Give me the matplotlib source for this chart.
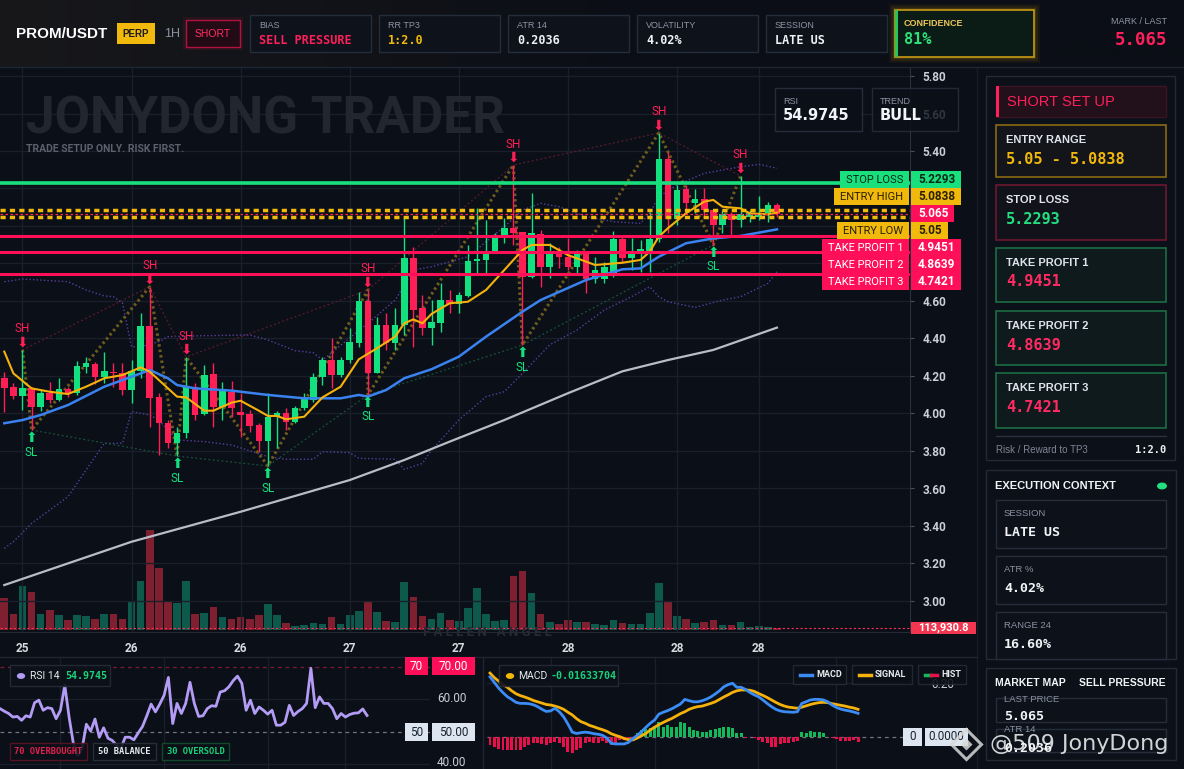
import numpy as np
import matplotlib
matplotlib.use("Agg")
import matplotlib.pyplot as plt
from matplotlib.patches import Rectangle, Circle
from matplotlib.lines import Line2D

# ---------------- DATA ----------------
opens = [4.188, 4.140, 4.095, 4.134, 4.036, 4.108, 4.072, 4.129, 4.108, 4.250,
         4.264, 4.196, 4.221, 4.214, 4.125, 4.228, 4.468, 4.086, 3.948, 3.841,
         3.894, 4.143, 3.997, 4.209, 4.036, 4.116, 4.006, 3.997, 3.939, 3.855,
         3.983, 4.001, 3.956, 4.028, 4.072, 4.193, 4.285, 4.205, 4.285, 4.378,
         4.602, 4.218, 4.472, 4.374, 4.472, 4.828, 4.561, 4.454, 4.484, 4.605,
         4.584, 4.627, 4.811, 4.819, 4.858, 4.934, 4.988, 4.966, 4.726, 4.957,
         4.783, 4.863, 4.836, 4.783, 4.849, 4.716, 4.716, 4.739, 4.929, 4.828,
         4.854, 4.863, 4.929, 5.356, 5.036, 5.196, 5.125, 5.142, 5.085, 5.005,
         5.064, 5.032, 5.050, 5.050, 5.068, 5.112]
highs = [4.223, 4.161, 4.339, 4.143, 4.125, 4.170, 4.188, 4.143, 4.280, 4.300,
         4.276, 4.326, 4.271, 4.268, 4.285, 4.534, 4.676, 4.108, 3.965, 3.930,
         4.301, 4.161, 4.259, 4.268, 4.170, 4.175, 4.108, 4.019, 3.948, 4.108,
         4.015, 4.028, 4.040, 4.108, 4.214, 4.303, 4.401, 4.303, 4.454, 4.650,
         4.659, 4.516, 4.534, 4.561, 5.050, 4.890, 4.632, 4.605, 4.694, 4.659,
         4.650, 4.899, 5.094, 5.032, 4.961, 5.041, 5.325, 4.970, 5.178, 4.979,
         4.908, 4.890, 4.934, 4.872, 4.863, 4.836, 4.810, 4.975, 4.943, 4.934,
         4.925, 5.076, 5.496, 5.396, 5.219, 5.219, 5.196, 5.201, 5.089, 5.085,
         5.076, 5.267, 5.085, 5.160, 5.130, 5.125]
lows = [4.006, 4.076, 4.019, 3.912, 4.015, 4.054, 4.068, 4.086, 4.099, 4.214,
        4.157, 4.161, 4.143, 4.100, 4.054, 4.188, 3.930, 3.780, 3.814, 3.773,
        3.868, 3.965, 3.992, 3.930, 3.965, 3.983, 3.876, 3.903, 3.796, 3.720,
        3.816, 3.912, 3.948, 4.019, 4.063, 4.152, 4.134, 4.196, 4.268, 4.356,
        4.099, 4.214, 4.339, 4.339, 4.419, 4.356, 4.419, 4.365, 4.436, 4.534,
        4.534, 4.623, 4.739, 4.739, 4.854, 4.908, 4.899, 4.365, 4.721, 4.677,
        4.721, 4.774, 4.765, 4.748, 4.644, 4.694, 4.694, 4.730, 4.801, 4.765,
        4.756, 4.756, 4.916, 4.961, 5.005, 5.068, 5.068, 5.050, 4.899, 4.961,
        4.952, 4.996, 5.023, 5.032, 5.023, 5.050]
closes = [4.138, 4.095, 4.134, 4.036, 4.108, 4.072, 4.129, 4.108, 4.253, 4.271,
          4.196, 4.227, 4.214, 4.125, 4.228, 4.468, 4.084, 3.948, 3.841, 3.894,
          4.143, 3.992, 4.205, 4.036, 4.125, 4.028, 3.992, 3.933, 3.855, 3.983,
          4.001, 3.956, 4.028, 4.086, 4.196, 4.285, 4.205, 4.285, 4.383, 4.602,
          4.218, 4.472, 4.374, 4.472, 4.828, 4.552, 4.454, 4.486, 4.605, 4.584,
          4.632, 4.815, 4.824, 4.858, 4.938, 4.988, 4.961, 4.726, 4.961, 4.783,
          4.863, 4.836, 4.783, 4.849, 4.716, 4.765, 4.783, 4.929, 4.828, 4.854,
          4.876, 4.929, 5.356, 5.036, 5.192, 5.121, 5.142, 5.085, 5.005, 5.064,
          5.032, 5.064, 5.068, 5.071, 5.112, 5.065]
volumes_k = [1824, 912, 2508, 2166, 912, 1140, 855, 570, 855, 798,
             627, 912, 912, 627, 1596, 2793, 5700, 3534, 1596, 1539,
             2793, 912, 969, 1311, 741, 627, 741, 627, 855, 1482,
             855, 399, 228, 285, 399, 342, 741, 342, 855, 1083,
             1653, 1026, 513, 456, 2736, 1881, 798, 627, 969, 570,
             513, 1254, 2394, 912, 513, 570, 3078, 3363, 2109, 912,
             456, 342, 570, 456, 456, 342, 285, 570, 399, 342,
             342, 969, 2679, 1653, 798, 627, 399, 456, 570, 285,
             285, 456, 171, 228, 171, 113.9308]

ema_fast_idx = [0, 1, 3, 5, 7, 9, 11, 13, 15, 16, 19, 20, 22, 23, 25, 26, 28, 29, 30, 31,
                33, 35, 37, 39, 41, 43, 44, 45, 46, 47, 49, 51, 53, 55, 57, 58, 60, 62, 64, 65,
                68, 70, 71, 72, 73, 75, 77, 78, 79, 81, 82, 84, 85]
ema_fast_val = [4.330, 4.214, 4.134, 4.116, 4.104, 4.143, 4.188, 4.205, 4.246, 4.223,
                4.090, 4.086, 4.015, 4.015, 4.058, 4.068, 4.015, 3.987, 3.987, 3.969,
                3.983, 4.086, 4.143, 4.289, 4.348, 4.410, 4.481, 4.502, 4.481, 4.531,
                4.588, 4.596, 4.659, 4.765, 4.872, 4.899, 4.899, 4.845, 4.810, 4.792,
                4.804, 4.819, 4.863, 4.943, 4.988, 5.068, 5.130, 5.139, 5.103, 5.094,
                5.068, 5.062, 5.071]
ema_mid_idx = [0, 2, 4, 7, 11, 14, 16, 18, 19, 21, 25, 29, 33, 37, 39, 40, 42, 44, 47, 50,
               53, 57, 59, 64, 68, 70, 72, 75, 78, 81, 85]
ema_mid_val = [3.948, 3.965, 3.992, 4.045, 4.143, 4.196, 4.232, 4.188, 4.152, 4.134,
               4.122, 4.099, 4.081, 4.081, 4.099, 4.090, 4.125, 4.188, 4.236, 4.303,
               4.410, 4.543, 4.605, 4.712, 4.769, 4.774, 4.836, 4.908, 4.934, 4.947, 4.982]
ema_slow_idx = [0, 14, 26, 38, 44, 49, 55, 62, 68, 73, 78, 85]
ema_slow_val = [3.085, 3.316, 3.476, 3.645, 3.752, 3.850, 3.965, 4.108, 4.225, 4.285, 4.339, 4.458]

band_up_idx = [0, 2, 7, 9, 11, 12, 13, 14, 15, 17, 18, 22, 27, 29, 32, 34, 35, 40, 43, 45,
               47, 51, 55, 57, 59, 61, 64, 67, 70, 71, 72, 74, 77, 81, 83, 85]
band_up_val = [4.703, 4.717, 4.703, 4.659, 4.627, 4.623, 4.589, 4.356, 4.356, 4.383,
               4.410, 4.415, 4.419, 4.392, 4.335, 4.324, 4.285, 4.481, 4.605, 4.765,
               4.783, 4.836, 4.996, 5.085, 5.121, 5.103, 5.050, 5.023, 5.014, 5.068,
               5.156, 5.219, 5.281, 5.316, 5.329, 5.308]
band_lo_idx = [0, 1, 3, 7, 11, 13, 14, 16, 17, 19, 22, 25, 29, 31, 34, 35, 38, 39, 43, 44,
               46, 47, 50, 53, 55, 57, 60, 63, 66, 69, 71, 72, 73, 76, 79, 81, 84, 85]
band_lo_val = [3.281, 3.316, 3.414, 3.556, 3.841, 3.841, 4.010, 3.992, 3.965, 3.859,
               3.850, 3.832, 3.770, 3.756, 3.756, 3.796, 3.791, 3.761, 3.756, 3.702,
               3.734, 3.805, 3.965, 4.090, 4.116, 4.214, 4.366, 4.445, 4.552, 4.623,
               4.676, 4.623, 4.596, 4.566, 4.605, 4.623, 4.694, 4.756]

swing_high_idx = [2, 16, 20, 40, 56, 72, 81]
swing_low_idx = [3, 19, 29, 40, 57, 78]
zigzag_idx = [2, 3, 16, 19, 20, 29, 40, 40, 56, 57, 72, 78, 81]
zigzag_kind = ['H', 'L', 'H', 'L', 'H', 'L', 'H', 'L', 'H', 'L', 'H', 'L', 'H']

x_tick_idx = [2, 14, 26, 38, 50, 62, 74, 83]
x_tick_labels = ['25', '26', '26', '27', '27', '28', '28', '28']
price_ticks = [3.0, 3.2, 3.4, 3.6, 3.8, 4.0, 4.2, 4.4, 4.6, 4.8, 5.0, 5.2, 5.4, 5.6, 5.8]
sub_grid_idx = [14, 38, 62, 80]

level_names = ['STOP LOSS', 'ENTRY HIGH', '', 'ENTRY LOW', 'TAKE PROFIT 1', 'TAKE PROFIT 2', 'TAKE PROFIT 3']
level_prices = [5.2293, 5.0838, 5.065, 5.05, 4.9451, 4.8639, 4.7421]
level_texts = ['5.2293', '5.0838', '5.065', '5.05', '4.9451', '4.8639', '4.7421']

rsi_vals = [57.1, 56.3, 55.6, 54.5, 54.7, 53.5, 54.9, 54.5, 58.9, 59.7,
            56.6, 57.4, 57.1, 54.0, 56.6, 64.3, 54.5, 46.3, 42.7, 44.7,
            52.3, 50.2, 53.9, 48.3, 51.2, 48.0, 47.3, 45.8, 44.9, 48.3,
            48.3, 47.5, 49.6, 51.6, 54.9, 58.5, 56.1, 58.5, 61.2, 66.7,
            52.5, 58.7, 55.6, 58.7, 65.2, 58.7, 54.7, 54.9, 57.1, 58.0,
            57.8, 62.2, 62.6, 63.8, 65.7, 67.1, 64.9, 56.6, 59.7, 55.6,
            57.6, 56.6, 55.4, 56.6, 52.0, 52.0, 52.9, 58.1, 55.0, 56.2,
            57.1, 58.7, 69.5, 57.4, 60.7, 58.7, 58.7, 57.1, 54.0, 55.6,
            54.5, 55.3, 55.7, 55.8, 57.0, 55.0]
macd_vals = [0.223, 0.202, 0.181, 0.164, 0.149, 0.139, 0.128, 0.124, 0.124, 0.123,
             0.119, 0.112, 0.102, 0.094, 0.096, 0.106, 0.093, 0.074, 0.047, 0.017,
             0.012, 0.015, 0.017, 0.015, 0.011, 0.009, 0.005, -0.005, -0.025, -0.027,
             -0.027, -0.027, -0.021, -0.007, 0.005, 0.019, 0.035, 0.050, 0.062, 0.084,
             0.091, 0.097, 0.104, 0.113, 0.122, 0.139, 0.134, 0.130, 0.130, 0.134,
             0.140, 0.148, 0.159, 0.171, 0.186, 0.194, 0.199, 0.184, 0.184, 0.176,
             0.165, 0.156, 0.149, 0.137, 0.124, 0.112, 0.102, 0.096, 0.093, 0.092,
             0.091, 0.093, 0.124, 0.130, 0.137, 0.139, 0.139, 0.137, 0.130, 0.118,
             0.109, 0.103, 0.099, 0.096, 0.092, 0.087]
signal_vals = [0.237, 0.220, 0.207, 0.194, 0.184, 0.171, 0.160, 0.153, 0.148, 0.142,
               0.135, 0.130, 0.125, 0.120, 0.118, 0.114, 0.109, 0.102, 0.091, 0.081,
               0.067, 0.056, 0.050, 0.042, 0.037, 0.031, 0.026, 0.020, 0.011, 0.005,
               0.000, -0.007, -0.011, -0.012, -0.005, 0.004, 0.012, 0.025, 0.035, 0.045,
               0.053, 0.061, 0.068, 0.077, 0.086, 0.093, 0.102, 0.108, 0.112, 0.114,
               0.119, 0.124, 0.130, 0.139, 0.148, 0.156, 0.165, 0.171, 0.174, 0.174,
               0.173, 0.169, 0.161, 0.154, 0.146, 0.137, 0.128, 0.120, 0.114, 0.110,
               0.108, 0.106, 0.110, 0.115, 0.120, 0.124, 0.127, 0.128, 0.127, 0.123,
               0.120, 0.117, 0.114, 0.110, 0.107, 0.102]
hist_vals = [-0.031, -0.037, -0.047, -0.050, -0.050, -0.050, -0.050, -0.050, -0.037, -0.031,
             -0.025, -0.022, -0.027, -0.031, -0.025, -0.019, -0.025, -0.037, -0.056, -0.062,
             -0.050, -0.043, -0.025, -0.019, -0.025, -0.022, -0.015, -0.025, -0.031, -0.022,
             -0.012, -0.012, -0.010, -0.006,
             0.012, 0.025, 0.027, 0.031, 0.040, 0.056, 0.035, 0.043, 0.037, 0.035,
             0.056, 0.050, 0.037, 0.025, 0.022, 0.019, 0.019, 0.025, 0.027, 0.031,
             0.035, 0.035, 0.031, 0.015, 0.012,
             -0.006, -0.002, -0.006, -0.012, -0.019, -0.025, -0.037, -0.037, -0.027, -0.022,
             -0.022, -0.019, -0.015,
             0.019, 0.015, 0.021, 0.019, 0.019, 0.012,
             -0.002, -0.006, -0.010, -0.015, -0.015, -0.015, -0.012, -0.019]

# ---------------- STYLE ----------------
W, H = 1184, 769
BG = '#0b0f17'
GRID = '#1a202b'
GREEN = '#13e07e'
RED = '#ff1e56'
YEL = '#f0b90b'
BLUE = '#3a82f0'
SANS = ['Roboto', 'DejaVu Sans']
LIB = ['Liberation Sans', 'DejaVu Sans']
MONO = ['DejaVu Sans Mono']
plt.rcParams['font.family'] = SANS

fig = plt.figure(figsize=(W / 100, H / 100), dpi=100)
fig.patch.set_facecolor(BG)


def fx(x):
    return x / W


def fy(y):
    return 1 - y / H


def box(x0, y0, x1, y1, fc='none', ec='none', lw=1.0, z=2, alpha=1.0):
    r = Rectangle((fx(x0), fy(y1)), (x1 - x0) / W, (y1 - y0) / H, transform=fig.transFigure,
                  facecolor=fc, edgecolor=ec, lw=lw, zorder=z, alpha=alpha)
    fig.add_artist(r)
    return r


def t(x, y, s, size=8, color='white', ha='left', va='center', weight='normal', family=None, z=6, **kw):
    return fig.text(fx(x), fy(y), s, fontsize=size, color=color, ha=ha, va=va, fontweight=weight,
                    family=family if family else SANS, zorder=z, **kw)


def hline(x0, x1, y, color, lw=1.0, z=2, ls='-'):
    fig.add_artist(Line2D([fx(x0), fx(x1)], [fy(y), fy(y)], transform=fig.transFigure,
                          color=color, lw=lw, zorder=z, ls=ls))


def vline(x, y0, y1, color, lw=1.0, z=2):
    fig.add_artist(Line2D([fx(x), fx(x)], [fy(y0), fy(y1)], transform=fig.transFigure,
                          color=color, lw=lw, zorder=z))


# ---------------- HEADER ----------------
hax = fig.add_axes([0, fy(67), 1, 67 / H])
g = np.clip(np.linspace(0, 1, 400) / 0.55, 0, 1)
c0 = np.array([24, 24, 27]) / 255.0
c1 = np.array([11, 14, 22]) / 255.0
img = c0[None, :] + (c1 - c0)[None, :] * g[:, None]
hax.imshow(img[None, :, :], aspect='auto', extent=[0, 1, 0, 1])
hax.axis('off')
hline(0, W, 67, '#1f2633', lw=1, z=3)

t(16, 34, 'PROM/USDT', size=11, weight='bold', family=LIB)
box(117, 23, 155, 44, fc=YEL, z=3)
t(136, 34, 'PERP', size=7, color='#1b1b1b', ha='center', weight='bold', family=LIB)
t(164, 34, '1H', size=9, color='#8a93a3', family=LIB)
box(183, 17, 243, 50, fc='#ff1e56', z=2, alpha=0.08)
box(186, 20, 240, 47, fc='#220b15', ec='#b3123c', z=3)
t(213, 34, 'SHORT', size=7.5, color='#ff2d60', ha='center', family=LIB)

hdr_boxes = [(250, 371, 'BIAS', 'SELL PRESSURE', '#ff1f5a'),
             (379, 500, 'RR TP3', '1:2.0', YEL),
             (508, 629, 'ATR 14', '0.2036', '#eef1f5'),
             (637, 758, 'VOLATILITY', '4.02%', '#eef1f5'),
             (766, 887, 'SESSION', 'LATE US', '#eef1f5')]
for x0, x1, lab, val, col in hdr_boxes:
    box(x0, 15, x1, 52, fc='#0e131b', ec='#262d3a', z=3)
    t(x0 + 9, 26, lab, size=6.5, color='#8d95a5', family=LIB)
    t(x0 + 9, 40.5, val, size=8.5, color=col, weight='bold', family=MONO)

for k, a in enumerate([0.05, 0.08, 0.12]):
    d = 6 - 2 * k
    box(895 - d, 10 - d, 1034 + d, 57 + d, fc='#f0b90b', z=2, alpha=a)
box(895, 10, 1034, 57, fc='#0b1c16', ec='#c89b12', lw=1.2, z=3)
box(895, 10, 898, 57, fc='#22c55e', z=4)
t(904, 23, 'CONFIDENCE', size=6.5, color='#f0c75a', weight='bold', family=LIB)
t(904, 40, '81%', size=11, color='#2ee07a', weight='bold', family=MONO)
t(1167, 22, 'MARK / LAST', size=6.5, color='#8d95a5', ha='right', family=LIB)
t(1167, 40, '5.065', size=12.5, color='#ff1f5a', ha='right', weight='bold', family=MONO)

# ---------------- MAIN CHART ----------------
X0, X1, YT, YB = 0, 910, 68, 632
ax = fig.add_axes([fx(X0), fy(YB), (X1 - X0) / W, (YB - YT) / H])
axv = ax.twinx()
ax.set_zorder(axv.get_zorder() + 1)
ax.patch.set_visible(False)
axv.patch.set_visible(True)
axv.patch.set_facecolor(BG)

px_per_idx = 9.09
first_px = 4.3
ax.set_xlim(-first_px / px_per_idx, (X1 - X0 - first_px) / px_per_idx)
p_per_px = 1 / 187.5
ax.set_ylim(5.8 - (YB - 76) * p_per_px, 5.8 + (76 - YT) * p_per_px)
vol_per_px = 57.0
axv.set_ylim(-2 * vol_per_px, (YB - YT - 2) * vol_per_px)
axv.set_yticks([])
for a in (ax, axv):
    for s in a.spines.values():
        s.set_visible(False)
ax.spines['right'].set_visible(True)
ax.spines['right'].set_color('#2a3140')
ax.spines['bottom'].set_visible(True)
ax.spines['bottom'].set_color('#232a36')

n = len(opens)
xi = np.arange(n)
o = np.array(opens); h = np.array(highs); l = np.array(lows); c = np.array(closes)
up = c >= o
ccol = np.where(up, GREEN, RED)

# volume
vcol = np.where(up, '#0d5a4d', '#7e2030')
axv.bar(xi, volumes_k, width=0.84, color=vcol, linewidth=0, zorder=2)
axv.axhline(volumes_k[-1], color='#ff2d55', lw=0.8, ls=(0, (2, 2)), zorder=3)

# grid
for p in price_ticks:
    ax.axhline(p, color=GRID, lw=1, zorder=0.3)
for i in x_tick_idx:
    ax.axvline(i, color=GRID, lw=1, zorder=0.3)

ax.text(fx(26), fy(133), 'JONYDONG TRADER', transform=fig.transFigure, fontsize=37, fontweight='bold',
        color='#22262f', family=SANS, va='baseline', ha='left', zorder=0.6)
ax.text(fx(26), fy(149), 'TRADE SETUP ONLY. RISK FIRST.', transform=fig.transFigure, fontsize=7.5,
        fontweight='bold', color='#5b616d', va='center', ha='left', zorder=0.6)
ax.text(fx(487), fy(632), 'F A L L E N   A N G E L', transform=fig.transFigure, fontsize=9.5,
        fontweight='bold', color='#262b35', va='center', ha='center', zorder=0.6)

# bands
dot = (0, (1, 1.6))
ax.plot(band_up_idx, band_up_val, color='#563fa0', lw=1.0, ls=dot, zorder=1)
ax.plot(band_lo_idx, band_lo_val, color='#563fa0', lw=1.0, ls=dot, zorder=1)

# swing connectors
shp = [highs[i] for i in swing_high_idx]
slp = [lows[i] for i in swing_low_idx]
ax.plot(swing_high_idx, shp, color='#5e1a30', lw=0.9, ls=(0, (1.5, 2)), zorder=1.2)
ax.plot(swing_low_idx, slp, color='#1a5238', lw=0.9, ls=(0, (1.5, 2)), zorder=1.2)
zz = [highs[i] if k == 'H' else lows[i] for i, k in zip(zigzag_idx, zigzag_kind)]
ax.plot(zigzag_idx, zz, color='#6e5b1e', lw=2.2, ls=(0, (0.8, 1.0)), zorder=1.5)

# slow ema
ax.plot(ema_slow_idx, ema_slow_val, color='#b9bdc6', lw=1.6, zorder=2)

# candles
ax.vlines(xi, l, h, colors=ccol, lw=1.0, zorder=4)
body_lo = np.minimum(o, c)
body_h = np.maximum(np.abs(c - o), 0.008)
ax.bar(xi, body_h, bottom=body_lo, width=0.72, color=ccol, linewidth=0, zorder=5)

# emas
ax.plot(ema_mid_idx, ema_mid_val, color=BLUE, lw=1.8, zorder=6)
ax.plot(ema_fast_idx, ema_fast_val, color='#f5b10c', lw=1.5, zorder=6.2)

# swing markers
for i in swing_high_idx:
    ax.annotate('\u2b07', (i, highs[i]), xytext=(0, 7), textcoords='offset pixels', ha='center',
                va='center', color=RED, fontsize=10, family='DejaVu Sans', zorder=8)
    ax.annotate('SH', (i, highs[i]), xytext=(0, 21), textcoords='offset pixels', ha='center',
                va='center', color=RED, fontsize=8.5, zorder=8)
for i in swing_low_idx:
    ax.annotate('\u2b06', (i, lows[i]), xytext=(0, -8), textcoords='offset pixels', ha='center',
                va='center', color=GREEN, fontsize=10, family='DejaVu Sans', zorder=8)
    ax.annotate('SL', (i, lows[i]), xytext=(0, -22), textcoords='offset pixels', ha='center',
                va='center', color=GREEN, fontsize=8.5, zorder=8)

# level lines
ax.axhline(level_prices[0], color='#19e07c', lw=2.6, zorder=7)
ax.axhline(level_prices[1], color=YEL, lw=2.5, ls=(0, (1.5, 1.2)), zorder=7)
ax.axhline(level_prices[3], color=YEL, lw=2.5, ls=(0, (1.5, 1.2)), zorder=7)
ax.axhline(level_prices[2], color='#ff1f5a', lw=0.9, ls=(0, (2, 2)), zorder=7.2)
for p in level_prices[4:]:
    ax.axhline(p, color='#ff0f57', lw=2.2, zorder=7)

# ticks
ax.yaxis.tick_right()
ax.set_yticks(price_ticks)
ax.set_yticklabels([f'{p:.2f}' for p in price_ticks])
ax.tick_params(axis='y', length=3, width=0.8, color='#4a5262', pad=6, labelsize=8.5, labelcolor='#c9ced8')
ax.set_xticks(x_tick_idx)
ax.set_xticklabels(x_tick_labels)
ax.tick_params(axis='x', length=0, pad=7, labelsize=8.5, labelcolor='#d5d9e0')
for lb in ax.get_xticklabels() + ax.get_yticklabels():
    lb.set_fontweight('bold')

# RSI / TREND boxes (over chart)
box(775, 88, 862, 131, fc='#0b0f17', ec='#2a3140', z=3, alpha=0.88)
t(783, 101, 'RSI', size=6.5, color='#8d95a5', family=LIB)
t(783, 116, '54.9745', size=10.5, color='#f2f4f7', weight='bold', family='DejaVu Sans')
box(872, 88, 958, 131, fc='#0b0f17', ec='#2a3140', z=3, alpha=0.80)
t(880, 101, 'TREND', size=6.5, color='#8d95a5', family=LIB)
t(880, 116, 'BULL', size=10.5, color='#f2f4f7', weight='bold', family='DejaVu Sans')

# level tags with stacking
fig.canvas.draw()
ys = [H - ax.transData.transform((0, p))[1] for p in level_prices]
anchor = 2
gap = 17.0
for j in range(anchor - 1, -1, -1):
    ys[j] = min(ys[j], ys[j + 1] - gap)
for j in range(anchor + 1, len(ys)):
    ys[j] = max(ys[j], ys[j - 1] + gap)
# tick labels hidden behind the tags
for p, lb in zip(price_ticks, ax.get_yticklabels()):
    yp = H - ax.transData.transform((0, p))[1]
    if any(abs(yp - yy) < 11 for yy in ys):
        lb.set_visible(False)

lab_fc = ['#19e07c', YEL, None, YEL, '#ff0f57', '#ff0f57', '#ff0f57']
lab_tc = ['#07281a', '#2a2000', None, '#2a2000', 'white', 'white', 'white']
val_fc = ['#19e07c', YEL, '#ff0f57', YEL, '#ff0f57', '#ff0f57', '#ff0f57']
val_tc = ['#07281a', '#2a2000', 'white', '#2a2000', 'white', 'white', 'white']
rend = fig.canvas.get_renderer()
for j, y in enumerate(ys):
    if level_names[j]:
        tx = t(903, y, level_names[j], size=8, color=lab_tc[j], ha='right', z=9)
        bb = tx.get_window_extent(rend)
        box(bb.x0 - 6, y - 8.5, 908.5, y + 8.5, fc=lab_fc[j], z=8.5)
    tv = t(918, y, level_texts[j], size=8.5, color=val_tc[j], weight='bold', z=9)
    bb = tv.get_window_extent(rend)
    box(911, y - 8.5, bb.x1 + 6, y + 8.5, fc=val_fc[j], z=8.5)

yv = H - axv.transData.transform((0, volumes_k[-1]))[1]
box(911, yv - 6, 976, yv + 6, fc='#f23650', z=8.5)
t(918, yv, f'{volumes_k[-1] * 1000:,.1f}', size=8, color='white', weight='bold', z=9)

# ---------------- LOWER PANELS ----------------
hline(0, 977, 657, '#1f2633', lw=1, z=3)
vline(483, 657, 769, '#1f2633')
vline(977, 68, 769, '#161b25')

# RSI
rax = fig.add_axes([0, fy(769), 430 / W, (769 - 657) / H])
rax.set_facecolor(BG)
r_px = 4.318
rax.set_xlim(0, 430 / r_px)
rax.set_ylim(50 - (769 - 731.7) / 3.25, 70 + (666.7 - 657) / 3.25)
rax.axis('off')
for gi in sub_grid_idx:
    rax.axvline(gi, color=GRID, lw=1, zorder=0.5)
rax.axhline(60, color=GRID, lw=1, zorder=0.5)
rax.axhline(40, color=GRID, lw=1, zorder=0.5)
rax.axhline(70, color='#7a1a36', lw=0.9, ls=(0, (3, 3)), zorder=0.6)
rax.axhline(50, color='#6d7482', lw=0.9, ls=(0, (3, 3)), zorder=0.6)
rax.plot(np.arange(len(rsi_vals)), rsi_vals, color='#b39cf5', lw=2.0, zorder=2)

box(10, 665, 110, 686, fc='#0d1119', ec='#262c38', z=3, alpha=0.92)
fig.add_artist(Circle((fx(21), fy(676)), 0.0029, transform=fig.transFigure, color='#b39cf5', zorder=4))
t(30, 676, 'RSI 14', size=7.5, color='#e6e9ee', z=5)
t(65, 676, '54.9745', size=7.2, color='#18d27a', weight='bold', family=MONO, z=5)
for x0, x1, s, ec, tc in [(10, 87, '70 OVERBOUGHT', '#5a1426', '#e0204f'),
                          (93, 156, '50 BALANCE', '#2b313d', '#e6e9ee'),
                          (162, 229, '30 OVERSOLD', '#12502f', '#19d27a')]:
    box(x0, 743, x1, 760, fc='#0b0f17', ec=ec, z=3, alpha=0.9)
    t((x0 + x1) / 2, 751.5, s, size=6.3, color=tc, ha='center', weight='bold', family=MONO, z=5)

t(437, 699, '60.00', size=8.5, color='#c9ced8', z=5)
t(437, 763, '40.00', size=8.5, color='#c9ced8', z=5)
box(405, 657, 428, 675, fc='#ff0f57', z=4)
box(432, 657, 475, 675, fc='#ff0f57', z=4)
t(416.5, 666, '70', size=8.5, color='white', ha='center', z=5)
t(453.5, 666, '70.00', size=8.5, color='white', ha='center', z=5)
box(405, 723, 428, 741, fc='#dde6f0', z=4)
box(432, 723, 475, 741, fc='#dde6f0', z=4)
t(416.5, 732, '50', size=8.5, color='#1b2230', ha='center', z=5)
t(453.5, 732, '50.00', size=8.5, color='#1b2230', ha='center', z=5)

# MACD
mx0, mx1 = 487, 903
max_ = fig.add_axes([fx(mx0), fy(769), (mx1 - mx0) / W, (769 - 657) / H])
max_.set_facecolor(BG)
m_px = 4.33
max_.set_xlim(-3 / m_px, (mx1 - mx0 - 3) / m_px)
max_.set_ylim(-(769 - 736.7) / 268.5, (736.7 - 657) / 268.5)
max_.axis('off')
for gi in sub_grid_idx:
    max_.axvline(gi, color=GRID, lw=1, zorder=0.5)
max_.axhline(0.2, color=GRID, lw=1, zorder=0.5)
max_.axhline(0.0, color='#6d7482', lw=0.9, ls=(0, (3, 3)), zorder=0.6)
mi = np.arange(len(hist_vals))
hv = np.array(hist_vals)
max_.bar(mi, hv, width=0.68, color=np.where(hv >= 0, '#12b85a', '#e8104a'), linewidth=0, zorder=1)
max_.plot(mi, signal_vals, color='#f5b10c', lw=2.0, zorder=2)
max_.plot(mi, macd_vals, color='#3b8cf5', lw=2.0, zorder=3)

box(499, 665, 618, 686, fc='#0d1119', ec='#262c38', z=3, alpha=0.92)
fig.add_artist(Circle((fx(510), fy(676)), 0.0029, transform=fig.transFigure, color='#f0b90b', zorder=4))
t(518, 676, 'MACD', size=7.5, color='#e6e9ee', z=5)
t(551, 676, '-0.01633704', size=7.2, color='#18d27a', weight='bold', family=MONO, z=5)
t(931, 684, '0.20', size=8.5, color='#c9ced8', z=2.5)
for x0, x1, s in [(793, 846, 'MACD'), (852, 912, 'SIGNAL'), (918, 966, 'HIST')]:
    box(x0, 665, x1, 684, fc='#0b0f17', ec='#262c38', z=3, alpha=0.88)
    t(x0 + 23, 674.5, s, size=6.5, color='#e6e9ee', weight='bold', z=5)
fig.add_artist(Line2D([fx(800), fx(812)], [fy(675), fy(675)], transform=fig.transFigure, color='#3b8cf5', lw=2.5, zorder=5))
fig.add_artist(Line2D([fx(859), fx(871)], [fy(675), fy(675)], transform=fig.transFigure, color='#f5b10c', lw=2.5, zorder=5))
fig.add_artist(Line2D([fx(925), fx(931)], [fy(675), fy(675)], transform=fig.transFigure, color='#12b85a', lw=2.5, zorder=5))
fig.add_artist(Line2D([fx(931), fx(937)], [fy(675), fy(675)], transform=fig.transFigure, color='#e8104a', lw=2.5, zorder=5))
box(903, 728, 922, 746, fc='#dde6f0', z=4)
box(925, 728, 968, 746, fc='#dde6f0', z=4)
t(912.5, 737, '0', size=8.5, color='#1b2230', ha='center', z=5)
t(946, 737, '0.0000', size=8.5, color='#1b2230', ha='center', z=5)

# ---------------- RIGHT PANEL ----------------
PB = '#0c1018'
box(986, 76, 1175, 460, fc=PB, ec='#232a36', z=2)
box(996, 86, 1166, 117, fc='#22101a', ec='#3b1524', z=3)
box(996, 86, 999, 117, fc='#ff1f5a', z=4)
t(1007, 101.5, 'SHORT SET UP', size=10.5, color='#ff1f5a', family=LIB, z=5)

cards = [(125, 177, 'ENTRY RANGE', '5.05 - 5.0838', YEL, '#8a6a12', '#14151a'),
         (185, 240, 'STOP LOSS', '5.2293', '#22e07f', '#6e1730', '#12121a'),
         (248, 302, 'TAKE PROFIT 1', '4.9451', '#ff2a63', '#1b6e45', '#0e1a1b'),
         (311, 365, 'TAKE PROFIT 2', '4.8639', '#ff2a63', '#1b6e45', '#0e1a1b'),
         (373, 428, 'TAKE PROFIT 3', '4.7421', '#ff2a63', '#1b6e45', '#0e1a1b')]
for y0, y1, lab, val, vc, ec, fc in cards:
    box(996, y0, 1166, y1, fc=fc, ec=ec, lw=1.2, z=3)
    t(1006, y0 + 15, lab, size=8, color='#dfe3ea', weight='bold', family=LIB, z=5)
    t(1006, y0 + 34, val, size=11, color=vc, weight='bold', family=MONO, z=5)
hline(996, 1166, 436, '#2a3140', lw=1, z=3)
t(996, 450, 'Risk / Reward to TP3', size=7, color='#7d8595', family=LIB, z=5)
t(1166, 450, '1:2.0', size=7.5, color='#eef1f5', ha='right', weight='bold', family=MONO, z=5)

box(986, 470, 1176, 659, fc='#0c1119', ec='#232a36', z=2)
t(995, 486, 'EXECUTION CONTEXT', size=8, color='#f2f4f7', weight='bold', family=LIB, z=5)
fig.add_artist(Circle((fx(1162), fy(486)), 0.0036, transform=fig.transFigure, color='#22e07f', zorder=5))
for y0, y1, lab, val in [(500, 548, 'SESSION', 'LATE US'), (556, 604, 'ATR %', '4.02%'),
                         (612, 659, 'RANGE 24', '16.60%')]:
    box(996, y0, 1166, y1, fc='#0d121a', ec='#262d3a', z=3)
    t(1004, y0 + 13, lab, size=6.8, color='#8a92a2', family=LIB, z=5)
    t(1004, y0 + 32, val, size=9.5, color='#f2f4f7', weight='bold', family=MONO, z=5)

box(986, 668, 1176, 760, fc='#0c1119', ec='#232a36', z=2)
t(995, 683, 'MARKET MAP', size=7.5, color='#f2f4f7', weight='bold', family=LIB, z=5)
t(1166, 683, 'SELL PRESSURE', size=7.5, color='#f2f4f7', weight='bold', family=LIB, ha='right', z=5)
for y0, y1, lab, val in [(698, 722, 'LAST PRICE', '5.065'), (729, 752, 'ATR 14', '0.2036')]:
    box(996, y0, 1166, y1, fc='#0d121a', ec='#262d3a', z=3)
    t(1004, y0 + 1, lab, size=6.8, color='#8a92a2', family=LIB, z=5)
    t(1004, y0 + 19, val, size=9.5, color='#f2f4f7', weight='bold', family=MONO, z=5)

# watermark
t(990, 744, '@509 JonyDong', size=16, color='white', alpha=0.82, family='DejaVu Sans', z=10)
fig.add_artist(Line2D([fx(966)], [fy(744)], transform=fig.transFigure, marker='D', ms=15, mfc='none',
                      mec='#d8d8d8', mew=2.2, alpha=0.85, zorder=10))
fig.add_artist(Line2D([fx(966)], [fy(744)], transform=fig.transFigure, marker='D', ms=6, mfc='#d8d8d8',
                      mec='none', alpha=0.85, zorder=10))

fig.savefig('out.png', dpi=100, facecolor=fig.get_facecolor())
